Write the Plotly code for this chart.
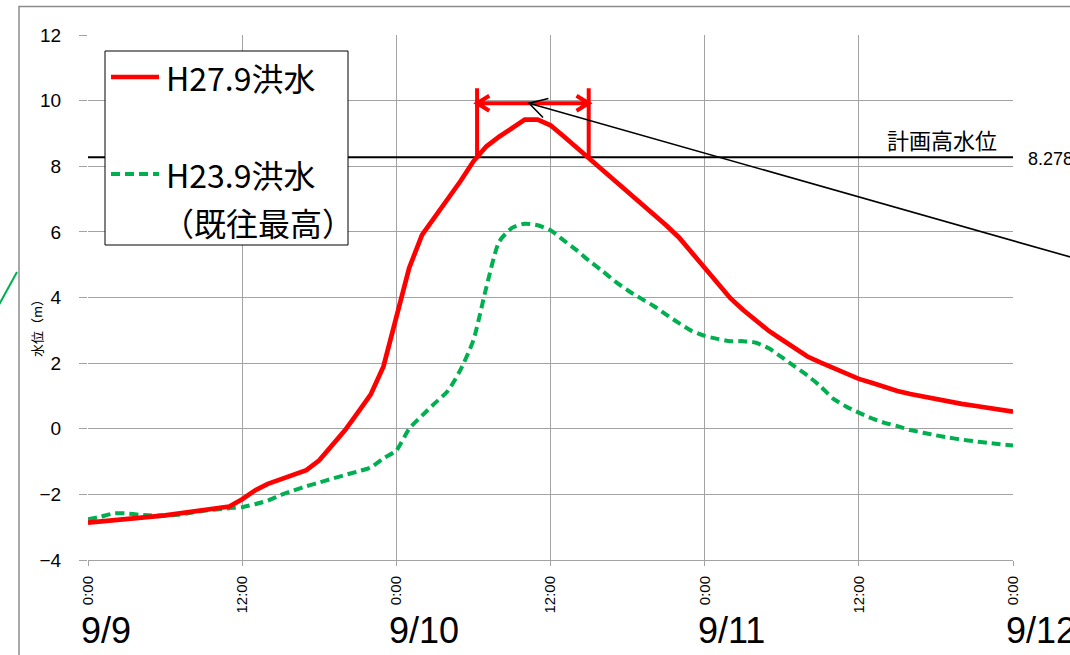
import numpy as np
import plotly.graph_objects as go

# ---------------- data ----------------
hours = list(range(0, 73))  # hours since 9/9 0:00
h27_level = [-2.86, -2.83, -2.80, -2.76, -2.72, -2.68, -2.64, -2.58, -2.52, -2.46,
             -2.42, -2.37, -2.15, -1.88, -1.68, -1.53, -1.40, -1.26, -0.96, -0.53,
             -0.05, 0.49, 1.04, 1.90, 3.35, 4.90, 5.91, 6.45, 6.95, 7.55,
             8.15, 8.60, 8.90, 9.18, 9.42, 9.42, 9.25, 8.92, 8.58, 8.27,
             7.92, 7.58, 7.25, 6.90, 6.55, 6.20, 5.83, 5.38, 4.92, 4.45,
             3.98, 3.62, 3.28, 2.98, 2.72, 2.45, 2.20, 2.02, 1.85, 1.68,
             1.52, 1.40, 1.27, 1.15, 1.06, 0.98, 0.90, 0.83, 0.76, 0.70,
             0.64, 0.58, 0.52]
h23_level = [-2.76, -2.68, -2.58, -2.58, -2.62, -2.64, -2.64, -2.62, -2.56, -2.50,
             -2.46, -2.42, -2.39, -2.30, -2.19, -2.02, -1.88, -1.75, -1.64, -1.52,
             -1.41, -1.30, -1.18, -0.90, -0.66, 0.00, 0.40, 0.78, 1.15, 1.80,
             2.70, 4.30, 5.70, 6.12, 6.25, 6.20, 6.05, 5.75, 5.45, 5.12,
             4.82, 4.50, 4.22, 3.98, 3.75, 3.48, 3.22, 2.98, 2.83, 2.74,
             2.67, 2.67, 2.62, 2.45, 2.18, 1.90, 1.62, 1.30, 0.92, 0.68,
             0.49, 0.32, 0.18, 0.08, -0.04, -0.12, -0.20, -0.27, -0.33, -0.38,
             -0.43, -0.47, -0.51]
plan_level = 8.278
tick_hours = [0, 12, 24, 36, 48, 60, 72]
tick_text = ["0:00", "12:00", "0:00", "12:00", "0:00", "12:00", "0:00"]
day_hours = [0, 24, 48, 72]
day_labels = ["9/9", "9/10", "9/11", "9/12"]
name_h27 = "H27.9洪水"
name_h23 = "H23.9洪水"
name_h23_sub = "（既往最高）"
plan_label = "計画高水位"
y_title = "水位（m）"

# ---------------- geometry ----------------
W, H = 1070, 655
ML, MR, MT, MB = 88, 57, 35, 95
PW, PH = W - ML - MR, H - MT - MB
X0, X1 = 0, 72
Y0, Y1 = -4, 12


def px2paper(px, py):
    return (px - ML) / PW, (H - MB - py) / PH


def data2px(x, y):
    return ML + (x - X0) / (X1 - X0) * PW, MT + (Y1 - y) / (Y1 - Y0) * PH


RED = "#ff0000"
GREEN = "#00b050"
GRID = "#a3a3a3"
JP = "Noto Sans CJK JP"
LAT = "Liberation Sans, Arial, sans-serif"

fig = go.Figure()
fig.add_trace(go.Scatter(x=[X0, X1], y=[plan_level, plan_level], mode="lines",
                         line=dict(color="black", width=2), name=plan_label,
                         showlegend=False, hoverinfo="skip"))
fig.add_trace(go.Scatter(x=hours, y=h23_level, mode="lines", name=name_h23,
                         line=dict(color=GREEN, width=4, dash="9px,5px",
                                   shape="spline", smoothing=0.6),
                         showlegend=False))
fig.add_trace(go.Scatter(x=hours, y=h27_level, mode="lines", name=name_h27,
                         line=dict(color=RED, width=4.7), showlegend=False))

# crossing times of H27 with plan level
hv = np.array(hours, float)
rv = np.array(h27_level)
ipk = int(np.argmax(rv))
t_up = float(np.interp(plan_level, rv[:ipk + 1], hv[:ipk + 1]))
t_dn = float(np.interp(-plan_level, -rv[ipk:], hv[ipk:]))

shapes = []
# red bracket
br_top = 10.38
br_y = 9.92
dx_w = 0.95
dy_w = 0.23
shapes.append(dict(type="path", xref="x", yref="y",
                   path=(f"M{t_up},{plan_level} L{t_up},{br_top} "
                         f"M{t_dn},{plan_level} L{t_dn},{br_top} "
                         f"M{t_up},{br_y} L{t_dn},{br_y} "
                         f"M{t_up + dx_w},{br_y + dy_w} L{t_up},{br_y} L{t_up + dx_w},{br_y - dy_w} "
                         f"M{t_dn - dx_w},{br_y + dy_w} L{t_dn},{br_y} L{t_dn - dx_w},{br_y - dy_w}"),
                   line=dict(color=RED, width=4)))

# black pointer line (from bracket to outside the chart)
tip_px = data2px((t_up + t_dn) / 2 - 0.3, br_y)
tail_px = (W + 5, tip_px[1] + (W + 5 - tip_px[0]) * 0.284)
ang = np.arctan2(tail_px[1] - tip_px[1], tail_px[0] - tip_px[0])
wl = 20
w1 = (tip_px[0] + wl * np.cos(ang - 0.52), tip_px[1] + wl * np.sin(ang - 0.52))
w2 = (tip_px[0] + wl * np.cos(ang + 0.52), tip_px[1] + wl * np.sin(ang + 0.52))
tp = px2paper(*tip_px)
tl = px2paper(*tail_px)
a1 = px2paper(*w1)
a2 = px2paper(*w2)
shapes.append(dict(type="path", xref="paper", yref="paper",
                   path=(f"M{tl[0]},{tl[1]} L{tp[0]},{tp[1]} "
                         f"M{a1[0]},{a1[1]} L{tp[0]},{tp[1]} L{a2[0]},{a2[1]}"),
                   line=dict(color="black", width=1.6)))

# outer frame of the chart area (gray) and stray green stroke at the left
f_tl = px2paper(19, 6.5)
f_bl = px2paper(19, H + 5)
f_tr = px2paper(W + 5, 6.5)
shapes.append(dict(type="path", xref="paper", yref="paper",
                   path=f"M{f_bl[0]},{f_bl[1]} L{f_tl[0]},{f_tl[1]} L{f_tr[0]},{f_tr[1]}",
                   line=dict(color="#8c8c8c", width=1.5)))
g1 = px2paper(-5, 312)
g2 = px2paper(17, 272)
shapes.append(dict(type="line", xref="paper", yref="paper",
                   x0=g1[0], y0=g1[1], x1=g2[0], y1=g2[1],
                   line=dict(color=GREEN, width=2)))

# custom legend box
lb0 = px2paper(105, 51)
lb1 = px2paper(348, 245)
shapes.append(dict(type="rect", xref="paper", yref="paper",
                   x0=lb0[0], y0=lb0[1], x1=lb1[0], y1=lb1[1],
                   fillcolor="white", line=dict(color="black", width=1), layer="above"))
s1a = px2paper(111, 77)
s1b = px2paper(159, 77)
shapes.append(dict(type="line", xref="paper", yref="paper",
                   x0=s1a[0], y0=s1a[1], x1=s1b[0], y1=s1b[1],
                   line=dict(color=RED, width=4.7), layer="above"))
s2a = px2paper(111, 174)
s2b = px2paper(159, 174)
shapes.append(dict(type="line", xref="paper", yref="paper",
                   x0=s2a[0], y0=s2a[1], x1=s2b[0], y1=s2b[1],
                   line=dict(color=GREEN, width=4, dash="9px,5px"), layer="above"))

annotations = []
leg_font = dict(family=JP, size=32, color="black")
for txt, (lx, ly) in [(name_h27, (164, 77)), (name_h23, (164, 174)), (name_h23_sub, (160, 222))]:
    p = px2paper(lx, ly)
    annotations.append(dict(text=txt, x=p[0], y=p[1], xref="paper", yref="paper",
                            xanchor="left", yanchor="middle", showarrow=False,
                            font=leg_font))

# plan level label and value
pl = px2paper(999, 139)
annotations.append(dict(text=plan_label, x=pl[0], y=pl[1], xref="paper", yref="paper",
                        xanchor="right", yanchor="middle", showarrow=False,
                        font=dict(family=JP, size=22, color="black")))
pv = px2paper(1026, 159)
annotations.append(dict(text=f"{plan_level:.3f}", x=pv[0], y=pv[1], xref="paper", yref="paper",
                        xanchor="left", yanchor="middle", showarrow=False,
                        font=dict(family=LAT, size=18, color="black")))

# y-axis title
yt = px2paper(36, 325)
annotations.append(dict(text=y_title, x=yt[0], y=yt[1], xref="paper", yref="paper",
                        textangle=-90, xanchor="center", yanchor="middle", showarrow=False,
                        font=dict(family=JP, size=13, color="black")))

# day labels under the axis
_, dly = px2paper(0, 630)
for dh, dl in zip(day_hours, day_labels):
    annotations.append(dict(text=dl, x=dh, y=dly, xref="x", yref="paper",
                            xanchor="left", yanchor="middle", xshift=-9, showarrow=False,
                            font=dict(family=LAT, size=36, color="black")))

fig.update_layout(
    width=W, height=H,
    margin=dict(l=ML, r=MR, t=MT, b=MB, pad=0),
    paper_bgcolor="white", plot_bgcolor="white",
    showlegend=False,
    shapes=shapes, annotations=annotations,
    xaxis=dict(range=[X0, X1], tickmode="array", tickvals=tick_hours, ticktext=tick_text,
               tickangle=-90, tickfont=dict(family=LAT, size=15, color="black"),
               ticks="outside", ticklen=5, tickcolor=GRID,
               showgrid=True, gridcolor=GRID, gridwidth=1,
               showline=True, linecolor=GRID, linewidth=1, zeroline=False,
               ticklabelstandoff=4),
    yaxis=dict(range=[Y0, Y1], tickmode="linear", tick0=-4, dtick=2,
               tickfont=dict(family=LAT, size=19, color="black"),
               ticks="outside", ticklen=8, tickcolor=GRID,
               showgrid=True, gridcolor=GRID, gridwidth=1,
               showline=False, zeroline=False, ticklabelstandoff=14),
)

fig.write_html(
    "out.html",
    config={"displayModeBar": False},
    post_script="document.body.style.margin='0';document.body.style.overflow='hidden';"
                "document.documentElement.style.overflow='hidden';",
)
